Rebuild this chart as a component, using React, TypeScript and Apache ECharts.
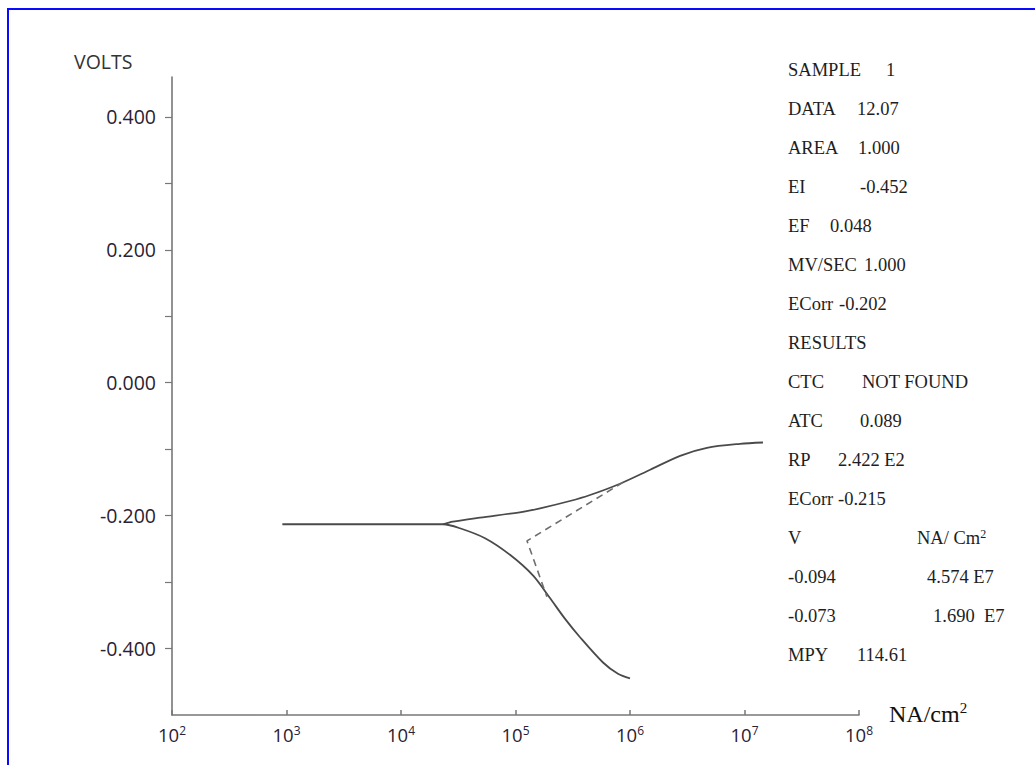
import React, { useEffect, useRef } from "react";
import * as echarts from "echarts";

// ---- data ----
// cathodic branch (including the flat start), current density in NA/cm^2, potential in volts
const cathodicCurrent = [9.2e2, 2.33e4, 3.27e4, 5.42e4, 8.95e4, 1.42e5, 2.0e5, 2.7e5, 3.66e5, 5.81e5, 7.85e5, 1.0e6];
const cathodicVolts = [-0.213, -0.213, -0.219, -0.234, -0.259, -0.290, -0.324, -0.355, -0.383, -0.421, -0.438, -0.445];

// anodic branch
const anodicCurrent = [2.33e4, 2.84e4, 4.9e4, 1.09e5, 1.64e5, 2.99e5, 4.48e5, 8.18e5, 1.5e6, 2.74e6, 4.7e6, 9.14e6, 1.45e7];
const anodicVolts = [-0.213, -0.209, -0.203, -0.195, -0.189, -0.178, -0.169, -0.152, -0.131, -0.110, -0.098, -0.092, -0.090];

// Tafel extrapolation (dashed)
const tafelCurrent = [8.69e5, 1.26e5, 1.88e5];
const tafelVolts = [-0.150, -0.238, -0.322];

// axis ticks
const yTickValues = [-0.4, -0.3, -0.2, -0.1, 0, 0.1, 0.2, 0.3, 0.4];
const yLabelValues = [-0.4, -0.2, 0, 0.2, 0.4];

// info panel
const infoLabels = ["SAMPLE", "DATA", "AREA", "EI", "EF", "MV/SEC", "ECorr", "RESULTS", "CTC", "ATC", "RP", "ECorr", "V", "-0.094", "-0.073", "MPY"];
const infoValues = ["1", "12.07", "1.000", "-0.452", "0.048", "1.000", "-0.202", "", "NOT FOUND", "0.089", "2.422 E2", "-0.215", "NA/ Cm{s|2}", "4.574 E7", "1.690  E7", "114.61"];

// layout (positions only)
const infoValueX = [886, 857, 858, 860, 830, 864, 839, 0, 862, 860, 838, 838, 917, 927, 933, 857];

const pair = (xs: number[], ys: number[]) => xs.map((x, i) => [x, ys[i]]);

export default function App() {
  const ref = useRef<HTMLDivElement>(null);
  useEffect(() => {
    if (!ref.current) return;
    const chart = echarts.init(ref.current, null, { renderer: "svg" });
    const serif = '"Liberation Serif", "Times New Roman", serif';
    const sans = '"Open Sans", "Noto Sans", sans-serif';
    const textColor = "#1e1e1e";

    const graphics: any[] = [
      {
        type: "rect",
        silent: true,
        z: -1,
        shape: { x: 8, y: 9, width: 1100, height: 800 },
        style: { fill: "none", stroke: "#0a0aff", lineWidth: 2 },
      },
      {
        type: "text",
        x: 74,
        y: 61,
        style: { text: "VOLTS", font: `19.5px ${sans}`, fill: "#333", verticalAlign: "middle" },
      },
      {
        type: "text",
        x: 889,
        y: 714,
        style: {
          text: "NA/cm{s|2}",
          font: `24px ${serif}`,
          fill: "#111",
          verticalAlign: "middle",
          rich: { s: { fontSize: 15, fontFamily: serif, fill: "#111", padding: [0, 0, 13, 0] } },
        },
      },
    ];

    infoLabels.forEach((lab, i) => {
      const y = 70 + 39 * i;
      graphics.push({
        type: "text",
        x: 788,
        y,
        style: { text: lab, font: `18.5px ${serif}`, fill: textColor, verticalAlign: "middle" },
      });
      if (infoValues[i]) {
        graphics.push({
          type: "text",
          x: infoValueX[i],
          y,
          style: {
            text: infoValues[i],
            font: `18.5px ${serif}`,
            fill: textColor,
            verticalAlign: "middle",
            rich: { s: { fontSize: 12, fontFamily: serif, fill: textColor, padding: [0, 0, 9, 0] } },
          },
        });
      }
    });

    chart.setOption({
      animation: false,
      backgroundColor: "#ffffff",
      grid: { left: 172, right: 176, top: 77, bottom: 50, containLabel: false },
      xAxis: {
        type: "log",
        logBase: 10,
        min: 100,
        max: 1e8,
        axisLine: { show: true, onZero: false, lineStyle: { color: "#777", width: 1.6 } },
        axisTick: { show: true, inside: true, length: 5, lineStyle: { color: "#777", width: 1.5 } },
        minorTick: { show: false },
        splitLine: { show: false },
        axisLabel: {
          margin: 9,
          color: "#2a2233",
          fontFamily: sans,
          fontSize: 18.5,
          formatter: (v: number) => `10{s|${Math.round(Math.log10(v))}}`,
          rich: { s: { fontSize: 12, fontFamily: sans, color: "#2a2233", padding: [0, 0, 9, 0] } },
        },
      },
      yAxis: {
        type: "value",
        min: -0.5,
        max: 0.46,
        interval: 0.1,
        axisLine: { show: true, onZero: false, lineStyle: { color: "#777", width: 1.6 } },
        axisTick: { show: true, inside: false, length: 7, customValues: yTickValues, lineStyle: { color: "#777", width: 1.2 } },
        splitLine: { show: false },
        axisLabel: {
          margin: 16,
          color: "#2a2233",
          fontFamily: sans,
          fontSize: 19.5,
          customValues: yLabelValues,
          formatter: (v: number) => (Math.abs(v) < 1e-9 ? "0.000" : v.toFixed(3)),
        },
      },
      series: [
        {
          type: "line",
          data: pair(cathodicCurrent, cathodicVolts),
          smooth: 0.3,
          symbol: "none",
          lineStyle: { color: "#4a4a4a", width: 1.8 },
        },
        {
          type: "line",
          data: pair(anodicCurrent, anodicVolts),
          smooth: 0.3,
          symbol: "none",
          lineStyle: { color: "#4a4a4a", width: 1.8 },
        },
        {
          type: "line",
          data: pair(tafelCurrent, tafelVolts),
          smooth: false,
          symbol: "none",
          lineStyle: { color: "#6e6e6e", width: 1.6, type: [7, 5] },
        },
      ],
      graphic: graphics,
    });
    return () => chart.dispose();
  }, []);
  return (
    <div
      ref={ref}
      style={{ position: "fixed", left: 0, top: 0, width: 1035, height: 765, background: "#fff" }}
    />
  );
}
